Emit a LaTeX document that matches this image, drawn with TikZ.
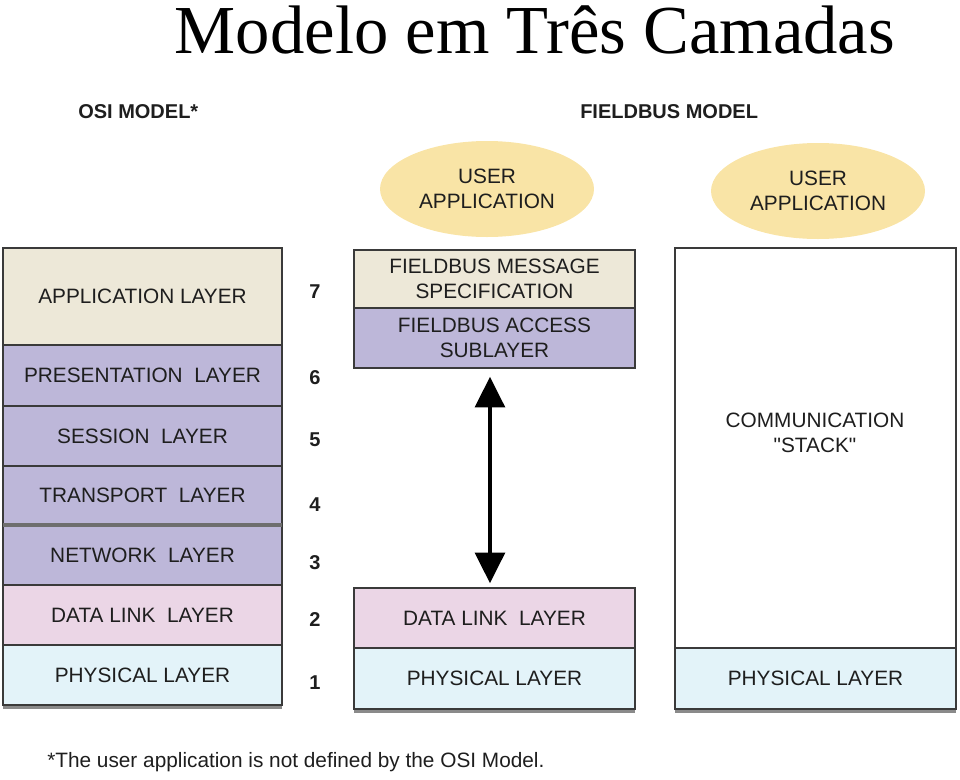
\documentclass[tikz,border=0pt]{standalone}
\usepackage{fontspec}
\setmainfont{Liberation Serif}
\newfontfamily\arialf{Liberation Sans}
\usetikzlibrary{arrows.meta,shapes.geometric}
\definecolor{edge}{HTML}{3A3A3A}
\definecolor{shade}{HTML}{8A8A8A}
\definecolor{appbg}{HTML}{EDE8D8}
\definecolor{purp}{HTML}{BDB7D9}
\definecolor{pinkbg}{HTML}{EBD6E6}
\definecolor{cyanbg}{HTML}{E3F3F9}
\definecolor{ellbg}{HTML}{F9E4A6}
\definecolor{txt}{HTML}{1E1E1E}
\newcommand\lab{\arialf\fontsize{15.6}{19}\selectfont}
\newcommand\layerbox[7]{\node[layer, fill=#6, minimum width={(#4-#2)*0.75pt}, minimum height={(#5-#3)*0.75pt}] (#1) at ({(#2+#4)/2},{(#3+#5)/2}) {#7};}
\begin{document}
\begin{tikzpicture}[x=0.75pt,y=-0.75pt,
  layer/.style={draw=edge, line width=1.1pt, inner sep=0pt, outer sep=0pt, font=\lab, align=center, text=txt},
  lbl/.style={font=\lab, align=center, text=txt, inner sep=0pt},
  num/.style={font=\arialf\bfseries\fontsize{15}{19}\selectfont, text=txt, inner sep=0pt},
  head/.style={font=\arialf\bfseries\fontsize{15}{18}\selectfont, text=txt, inner sep=0pt},
  userapp/.style={ellipse, fill=ellbg, draw=none, minimum width=160.5pt, minimum height=72pt, inner sep=0pt, font=\lab, align=center, text=txt},
  dblarrow/.style={line width=3.6pt, draw=black, {Triangle[length=23pt,width=22pt]}-{Triangle[length=23pt,width=22pt]}},
  shadowline/.style={line width=2.2pt, draw=shade},
  sepline/.style={line width=2.6pt, draw=shade!80!black}]
\useasboundingbox (0,0) rectangle (960,779);

% title
\node[font=\fontsize{51.5}{52}\selectfont, anchor=base, inner sep=0pt] (title) at (535,53) {Modelo em Três Camadas};

% headers
\node[head, anchor=west] (osihead) at (78,112) {OSI MODEL*};
\node[head, anchor=west] (fbhead) at (580,112) {FIELDBUS MODEL};

% OSI column
\layerbox{app}{3}{248}{282}{345}{appbg}{APPLICATION LAYER}
\layerbox{pres}{3}{345}{282}{406}{purp}{PRESENTATION \ LAYER}
\layerbox{sess}{3}{406}{282}{466}{purp}{SESSION \ LAYER}
\layerbox{trans}{3}{466}{282}{525}{purp}{TRANSPORT \ LAYER}
\layerbox{net}{3}{525}{282}{585}{purp}{NETWORK \ LAYER}
\layerbox{dl}{3}{585}{282}{645}{pinkbg}{DATA LINK \ LAYER}
\layerbox{phy}{3}{645}{282}{705}{cyanbg}{PHYSICAL LAYER}
\draw[sepline] (trans.south west) -- (trans.south east);
\draw[shadowline] ([yshift=-1.6pt]phy.south west) -- ([yshift=-1.6pt]phy.south east);

% layer numbers
\node[num] (n7) at (315,292) {7};
\node[num] (n6) at (315,378) {6};
\node[num] (n5) at (315,440) {5};
\node[num] (n4) at (315,505) {4};
\node[num] (n3) at (315,563) {3};
\node[num] (n2) at (315,620) {2};
\node[num] (n1) at (315,683) {1};

% Fieldbus middle column
\node[userapp] (ua1) at (487,189) {USER\\APPLICATION};
\layerbox{fms}{354}{250}{635}{308}{appbg}{FIELDBUS MESSAGE\\SPECIFICATION}
\layerbox{fas}{354}{308}{635}{368}{purp}{FIELDBUS ACCESS\\SUBLAYER}
\layerbox{dl2}{354}{588}{635}{648}{pinkbg}{DATA LINK \ LAYER}
\layerbox{phy2}{354}{648}{635}{709}{cyanbg}{PHYSICAL LAYER}
\draw[shadowline] ([yshift=-1.6pt]phy2.south west) -- ([yshift=-1.6pt]phy2.south east);
\draw[dblarrow, shorten <=6.5pt, shorten >=3.5pt] ([xshift=-3.4pt]fas.south) -- ([xshift=-3.4pt]dl2.north);

% Fieldbus right column
\node[userapp] (ua2) at (818,191) {USER\\APPLICATION};
\layerbox{stack}{675}{248}{956}{648}{white}{}
\node[lbl] (stacktxt) at (815,433) {COMMUNICATION\\"STACK"};
\layerbox{phy3}{675}{648}{956}{709}{cyanbg}{PHYSICAL LAYER}
\draw[shadowline] ([yshift=-1.6pt]phy3.south west) -- ([yshift=-1.6pt]phy3.south east);

% footnote
\node[lbl, anchor=west] (foot) at (47,762) {*The user application is not defined by the OSI Model.};
\end{tikzpicture}
\end{document}
